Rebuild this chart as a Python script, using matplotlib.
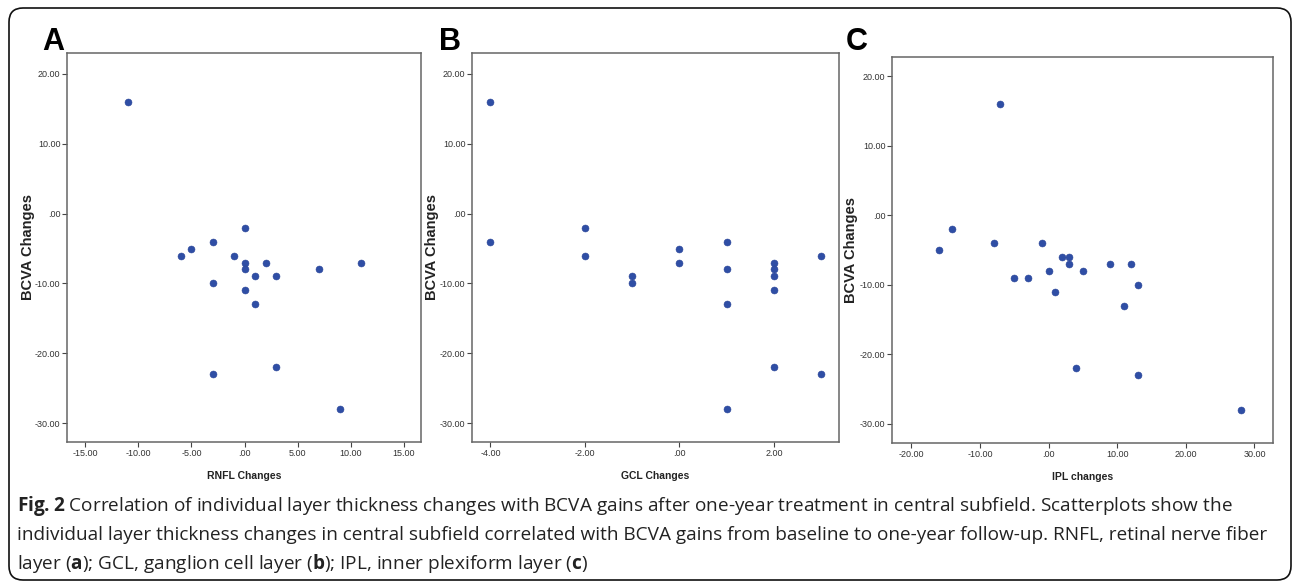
import matplotlib
matplotlib.use("Agg")
import matplotlib.pyplot as plt
from matplotlib.patches import FancyBboxPatch
from matplotlib.ticker import FuncFormatter

# BCVA changes vs layer thickness changes
rnfl_x = [-11, -5, -3, 0, -6, -1, 0, 2, 0, 1, 3, 7, 11, -3, 0, 1, 3, -3, 9]
rnfl_y = [16, -5, -4, -2, -6, -6, -7, -7, -8, -9, -9, -8, -7, -10, -11, -13, -22, -23, -28]

gcl_x = [-4, -4, -2, -2, -1, -1, 0, 0, 1, 1, 1, 1, 2, 2, 2, 2, 2, 3, 3]
gcl_y = [16, -4, -2, -6, -9, -10, -5, -7, -4, -8, -13, -28, -7, -8, -9, -11, -22, -6, -23]

ipl_x = [-7, -14, -16, -8, -1, 2, 3, 3, 0, 5, -5, -3, 1, 9, 12, 13, 11, 4, 13, 28]
ipl_y = [16, -2, -5, -4, -4, -6, -6, -7, -8, -8, -9, -9, -11, -7, -7, -10, -13, -22, -23, -28]

panels = ["A", "B", "C"]
xlabels = ["RNFL Changes", "GCL Changes", "IPL changes"]
ylabel = "BCVA Changes"
xticks = [[-15, -10, -5, 0, 5, 10, 15], [-4, -2, 0, 2], [-20, -10, 0, 10, 20, 30]]
yticks = [-30, -20, -10, 0, 10, 20]

caption = [
    r"$\mathbf{Fig.2}$ Correlation of individual layer thickness changes with BCVA gains after one-year treatment in central subfield. Scatterplots show the",
    "individual layer thickness changes in central subfield correlated with BCVA gains from baseline to one-year follow-up. RNFL, retinal nerve fiber",
    r"layer ($\mathbf{a}$); GCL, ganglion cell layer ($\mathbf{b}$); IPL, inner plexiform layer ($\mathbf{c}$)",
]

plt.rcParams["mathtext.fontset"] = "custom"
plt.rcParams["mathtext.rm"] = "Open Sans"
plt.rcParams["mathtext.bf"] = "Open Sans:bold"

W, H = 1292, 582
fig = plt.figure(figsize=(W / 100, H / 100), dpi=100)

# pixel-coordinate overlay for border, letters and caption
bg = fig.add_axes([0, 0, 1, 1], zorder=-1)
bg.set_xlim(0, W)
bg.set_ylim(H, 0)
bg.axis("off")
bg.add_patch(FancyBboxPatch((9, 8), 1282, 572, boxstyle="round,pad=0,rounding_size=14",
                            fc="none", ec="#111111", lw=1.2))


def spss_fmt(v, pos):
    s = f"{v:.2f}"
    if s in ("0.00", "-0.00"):
        return ".00"
    return s


# axes boxes in pixels: left, right, top, bottom
boxes = [(67, 421, 53, 442), (472, 839, 53, 442), (892, 1273, 57, 443)]
xlims = [(-16.7, 16.6), (-4.39, 3.38), (-22.8, 32.7)]
ylims = [(-32.7, 23.0), (-32.7, 23.0), (-32.8, 22.8)]
data = [(rnfl_x, rnfl_y), (gcl_x, gcl_y), (ipl_x, ipl_y)]
ylab_x = [-0.09, -0.089, -0.088]
letter_x = [42, 439, 846]

sans = ["Liberation Sans", "DejaVu Sans"]

for i in range(3):
    l, r, t, b = boxes[i]
    ax = fig.add_axes([l / W, 1 - b / H, (r - l) / W, (b - t) / H])
    x, y = data[i]
    ax.plot(x, y, "o", color="#2f4ea5", ms=5.0, mec="#2a4598", mew=0.4)
    ax.set_xlim(*xlims[i])
    ax.set_ylim(*ylims[i])
    ax.set_xticks(xticks[i])
    ax.set_yticks(yticks)
    ax.xaxis.set_major_formatter(FuncFormatter(spss_fmt))
    ax.yaxis.set_major_formatter(FuncFormatter(spss_fmt))
    ax.tick_params(direction="out", length=3.5, width=0.8, color="#444444",
                   labelsize=6.5, labelcolor="#333333", pad=1.2)
    for lab in ax.get_xticklabels() + ax.get_yticklabels():
        lab.set_family(sans)
    for sp in ax.spines.values():
        sp.set_color("#666666")
        sp.set_linewidth(1.1)
    ax.set_xlabel(xlabels[i], family=sans, fontweight="bold", fontsize=7.5, color="#222222")
    ax.xaxis.set_label_coords(0.5, -0.075)
    ax.set_ylabel(ylabel, family=sans, fontweight="bold", fontsize=10.5, color="#222222")
    ax.yaxis.set_label_coords(ylab_x[i], 0.5)
    bg.text(letter_x[i], 50, panels[i], family=sans,
            fontweight="bold", fontsize=22, va="baseline", ha="left")

# caption
baselines = [511, 540, 569]
for line, yb in zip(caption, baselines):
    bg.text(17, yb, line, family=["Open Sans", "DejaVu Sans"], fontsize=13.7,
            va="baseline", ha="left", color="#222222")

fig.savefig("out.png", dpi=100)
